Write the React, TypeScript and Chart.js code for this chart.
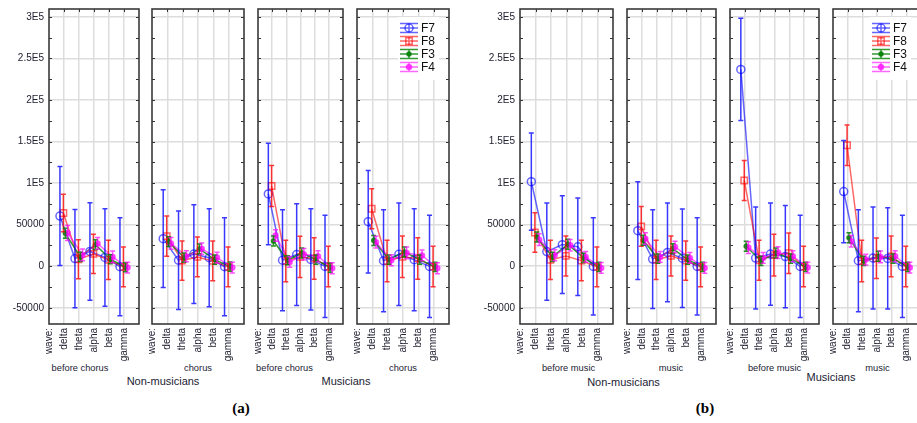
import React, { useEffect, useRef } from "react";
import { Chart, registerables } from "chart.js";
Chart.register(...registerables);

// ---------------- data ----------------
const WAVE_LABELS = ["delta", "theta", "alpha", "beta", "gamma"];
const X_AXIS_NAME = "wave:";
const Y_TICK_VALUES = [-50000, 0, 50000, 100000, 150000, 200000, 250000, 300000];
const Y_TICK_LABELS = ["-50000", "0", "50000", "1E5", "1.5E5", "2E5", "2.5E5", "3E5"];
const SERIES_NAMES = ["F7", "F8", "F3", "F4"];

// (a) Non-musicians, before chorus
const a1_F7 = [60400, 9200, 17800, 10600, -600];
const a1_F7_err = [59500, 59000, 58600, 58600, 59000];
const a1_F8 = [64000, 8400, 14800, 7600, -800];
const a1_F8_err = [22500, 23600, 23600, 23600, 24000];
const a1_F3 = [39600, 11200, 26000, 8400, -1200];
const a1_F3_err = [6000, 5500, 6000, 5500, 5500];
const a1_F4 = [40000, 13600, 27500, 11200, -1600];
const a1_F4_err = [9000, 7000, 7000, 7000, 6500];
// (a) Non-musicians, chorus
const a2_F7 = [33200, 7200, 14600, 10200, -600];
const a2_F7_err = [58800, 59200, 59400, 59000, 59000];
const a2_F8 = [36200, 6800, 11200, 6400, -800];
const a2_F8_err = [24200, 23600, 24000, 24000, 24000];
const a2_F3 = [29600, 10400, 20800, 8000, -400];
const a2_F3_err = [6000, 5500, 6000, 5500, 5500];
const a2_F4 = [27500, 12000, 21000, 10400, -1600];
const a2_F4_err = [7000, 6500, 7000, 6500, 6500];
// (a) Musicians, before chorus
const a3_F7 = [87000, 7200, 14000, 8200, -200];
const a3_F7_err = [61000, 60800, 61200, 61000, 61400];
const a3_F8 = [96600, 6200, 11200, 9400, -400];
const a3_F8_err = [24600, 25000, 24800, 25000, 24400];
const a3_F3 = [30400, 7200, 16000, 8000, -1600];
const a3_F3_err = [6000, 5500, 6000, 5500, 5500];
const a3_F4 = [37000, 5200, 14400, 12000, -2400];
const a3_F4_err = [7000, 6500, 7000, 6500, 6500];
// (a) Musicians, chorus
const a4_F7 = [53600, 6600, 14400, 7800, -200];
const a4_F7_err = [61600, 61400, 61600, 61400, 61400];
const a4_F8 = [69200, 6200, 11400, 9400, -400];
const a4_F8_err = [24000, 25000, 25000, 25000, 24400];
const a4_F3 = [31000, 8000, 17200, 8000, -800];
const a4_F3_err = [6000, 5500, 6000, 5500, 5500];
const a4_F4 = [29000, 7200, 16000, 13000, -2400];
const a4_F4_err = [7000, 6500, 7000, 6500, 6500];
// (b) Non-musicians, before music
const b1_F7 = [101800, 17600, 26000, 23400, -200];
const b1_F7_err = [58600, 58400, 58800, 58600, 58600];
const b1_F8 = [40600, 7600, 12400, 6800, -800];
const b1_F8_err = [23800, 23600, 24000, 24400, 24000];
const b1_F3 = [35200, 11200, 26400, 10000, -800];
const b1_F3_err = [6000, 5500, 6000, 5500, 5500];
const b1_F4 = [32000, 13200, 25200, 11200, -2000];
const b1_F4_err = [7000, 6500, 7000, 6500, 6500];
// (b) Non-musicians, music
const b2_F7 = [42800, 8600, 16600, 9600, -200];
const b2_F7_err = [58800, 59400, 59400, 59200, 58600];
const b2_F8 = [48000, 7600, 12400, 6800, -800];
const b2_F8_err = [24000, 23600, 24000, 23600, 24000];
const b2_F3 = [31200, 9200, 21200, 8000, -800];
const b2_F3_err = [6000, 5500, 6000, 5500, 5500];
const b2_F4 = [33200, 11200, 23200, 10000, -2000];
const b2_F4_err = [7000, 6500, 7000, 6500, 6500];
// (b) Musicians, before music
const b3_F7 = [236800, 9800, 14600, 11600, -200];
const b3_F7_err = [61600, 61400, 61400, 61600, 61400];
const b3_F8 = [103200, 7200, 13400, 15600, -400];
const b3_F8_err = [24000, 24000, 25000, 24400, 24400];
const b3_F3 = [24000, 6400, 16000, 9200, -800];
const b3_F3_err = [6000, 5500, 6000, 5500, 5500];
const b3_F4 = [22400, 10000, 16400, 12000, -1600];
const b3_F4_err = [7000, 6500, 7000, 6500, 6500];
// (b) Musicians, music
const b4_F7 = [89800, 6600, 9800, 9400, -200];
const b4_F7_err = [61400, 61400, 61400, 61000, 61400];
const b4_F8 = [145600, 6200, 9600, 11800, -400];
const b4_F8_err = [24400, 25000, 24400, 24600, 24400];
const b4_F3 = [34400, 6400, 12000, 9200, -800];
const b4_F3_err = [6000, 5500, 6000, 5500, 5500];
const b4_F4 = [30000, 8000, 11200, 12000, -1600];
const b4_F4_err = [7000, 6500, 7000, 6500, 6500];

const CONDITION_A = ["before chorus", "chorus", "before chorus", "chorus"];
const CONDITION_B = ["before music", "music", "before music", "music"];
const GROUP_NAMES = ["Non-musicians", "Musicians"];
const FIGURE_TAGS = ["(a)", "(b)"];

// ---------------- styles / layout ----------------
const FONT = "'Liberation Sans', Arial, Helvetica, sans-serif";
const TEXT_COLOR = "#222233";
const Y_MIN = -69500;
const Y_MAX = 309500;
const CANVAS_H = 362;
const PLOT_TOP = 9;
const PLOT_BOTTOM = 324;
const CAP = 2.5;

const SERIES_STYLE = [
  { color: "rgba(0,0,255,0.6)", err: "rgba(0,0,255,0.78)", point: "circle", radius: 4, fill: false, dx: -0.27 },
  { color: "rgba(255,0,0,0.6)", err: "rgba(255,0,0,0.78)", point: "rect", radius: 4.5, fill: false, dx: -0.04 },
  { color: "rgba(0,128,0,0.8)", err: "rgba(0,128,0,0.85)", point: "circle", radius: 2, fill: true, dx: 0.09 },
  { color: "rgba(255,0,255,0.6)", err: "rgba(255,0,255,0.7)", point: "circle", radius: 2.5, fill: true, dx: 0.24 },
];

const PANELS = [
  { left: 49, right: 143, showY: true, legend: false, mean: [a1_F7, a1_F8, a1_F3, a1_F4], err: [a1_F7_err, a1_F8_err, a1_F3_err, a1_F4_err] },
  { left: 148, right: 248, showY: false, legend: false, mean: [a2_F7, a2_F8, a2_F3, a2_F4], err: [a2_F7_err, a2_F8_err, a2_F3_err, a2_F4_err] },
  { left: 254, right: 347, showY: false, legend: false, mean: [a3_F7, a3_F8, a3_F3, a3_F4], err: [a3_F7_err, a3_F8_err, a3_F3_err, a3_F4_err] },
  { left: 353, right: 453, showY: false, legend: true, mean: [a4_F7, a4_F8, a4_F3, a4_F4], err: [a4_F7_err, a4_F8_err, a4_F3_err, a4_F4_err] },
  { left: 520, right: 617, showY: true, legend: false, mean: [b1_F7, b1_F8, b1_F3, b1_F4], err: [b1_F7_err, b1_F8_err, b1_F3_err, b1_F4_err] },
  { left: 623, right: 720, showY: false, legend: false, mean: [b2_F7, b2_F8, b2_F3, b2_F4], err: [b2_F7_err, b2_F8_err, b2_F3_err, b2_F4_err] },
  { left: 726, right: 823, showY: false, legend: false, mean: [b3_F7, b3_F8, b3_F3, b3_F4], err: [b3_F7_err, b3_F8_err, b3_F3_err, b3_F4_err] },
  { left: 829, right: 925, showY: false, legend: true, mean: [b4_F7, b4_F8, b4_F3, b4_F4], err: [b4_F7_err, b4_F8_err, b4_F3_err, b4_F4_err] },
];

const TEXTS = [
  { text: CONDITION_A[0], x: 80, y: 369, size: 9.3, bold: false, serif: false },
  { text: CONDITION_A[1], x: 198, y: 369, size: 9.3, bold: false, serif: false },
  { text: CONDITION_A[2], x: 284.5, y: 369, size: 9.3, bold: false, serif: false },
  { text: CONDITION_A[3], x: 403, y: 369, size: 9.3, bold: false, serif: false },
  { text: GROUP_NAMES[0], x: 163, y: 381, size: 11, bold: false, serif: false },
  { text: GROUP_NAMES[1], x: 346, y: 381, size: 11, bold: false, serif: false },
  { text: CONDITION_B[0], x: 568.5, y: 369, size: 9.3, bold: false, serif: false },
  { text: CONDITION_B[1], x: 671, y: 369, size: 9.3, bold: false, serif: false },
  { text: CONDITION_B[2], x: 774.5, y: 369, size: 9.3, bold: false, serif: false },
  { text: CONDITION_B[3], x: 877.5, y: 369, size: 9.3, bold: false, serif: false },
  { text: GROUP_NAMES[0], x: 623.5, y: 382, size: 11, bold: false, serif: false },
  { text: GROUP_NAMES[1], x: 831, y: 377, size: 11, bold: false, serif: false },
  { text: FIGURE_TAGS[0], x: 241, y: 408, size: 15, bold: true, serif: true },
  { text: FIGURE_TAGS[1], x: 705, y: 408, size: 15, bold: true, serif: true },
];

function drawMarker(ctx: CanvasRenderingContext2D, si: number, x: number, y: number) {
  const st = SERIES_STYLE[si];
  ctx.beginPath();
  if (st.point === "rect") {
    const s = st.radius * Math.SQRT1_2;
    ctx.rect(x - s, y - s, 2 * s, 2 * s);
  } else {
    ctx.arc(x, y, st.radius, 0, Math.PI * 2);
  }
  if (st.fill) {
    ctx.fillStyle = st.color;
    ctx.fill();
  }
  ctx.strokeStyle = st.color;
  ctx.lineWidth = 1.5;
  ctx.stroke();
}

const decoPlugin = {
  id: "deco",
  afterDatasetsDraw(chart: any) {
    const ctx = chart.ctx;
    const ys = chart.scales.y;
    const ca = chart.chartArea;
    ctx.save();
    ctx.beginPath();
    ctx.rect(ca.left, ca.top, ca.right - ca.left, ca.bottom - ca.top);
    ctx.clip();
    chart.data.datasets.forEach((ds: any, di: number) => {
      const meta = chart.getDatasetMeta(di);
      ctx.strokeStyle = SERIES_STYLE[di].err;
      ctx.lineWidth = 1.5;
      meta.data.forEach((el: any, j: number) => {
        const raw = ds.data[j];
        const t = ys.getPixelForValue(raw.y + raw.err);
        const b = ys.getPixelForValue(raw.y - raw.err);
        ctx.beginPath();
        ctx.moveTo(el.x, t);
        ctx.lineTo(el.x, b);
        ctx.moveTo(el.x - CAP, t);
        ctx.lineTo(el.x + CAP, t);
        ctx.moveTo(el.x - CAP, b);
        ctx.lineTo(el.x + CAP, b);
        ctx.stroke();
      });
    });
    ctx.restore();
  },
  afterDraw(chart: any, _args: any, opts: any) {
    const ctx = chart.ctx;
    const ca = chart.chartArea;
    const ys = chart.scales.y;
    const xs = chart.scales.x;
    ctx.save();
    // edge ticks
    ctx.strokeStyle = "#333";
    ctx.lineWidth = 1;
    ctx.beginPath();
    for (let v = -50000; v <= 300000; v += 25000) {
      const py = Math.round(ys.getPixelForValue(v)) + 0.5;
      ctx.moveTo(ca.left, py);
      ctx.lineTo(ca.left + 3, py);
      ctx.moveTo(ca.right - 3, py);
      ctx.lineTo(ca.right, py);
    }
    for (let i = 1; i <= WAVE_LABELS.length; i++) {
      const px = Math.round(xs.getPixelForValue(i)) + 0.5;
      ctx.moveTo(px, ca.top);
      ctx.lineTo(px, ca.top + 3);
    }
    ctx.stroke();
    // frame
    ctx.strokeStyle = "#3a3a3a";
    ctx.lineWidth = 1.6;
    ctx.strokeRect(ca.left, ca.top, ca.right - ca.left, ca.bottom - ca.top);
    // legend
    if (opts && opts.legend) {
      ctx.fillStyle = "#ffffff";
      ctx.fillRect(ca.right - 51, ca.top + 8, 41, 63);
      SERIES_NAMES.forEach((name, i) => {
        const st = SERIES_STYLE[i];
        const cy = ca.top + 19 + i * 13;
        const x0 = ca.right - 49;
        const x1 = x0 + 18;
        const cx = x0 + 9;
        ctx.strokeStyle = st.color;
        ctx.lineWidth = 1.5;
        ctx.beginPath();
        ctx.moveTo(x0, cy);
        ctx.lineTo(x1, cy);
        ctx.moveTo(x0, cy - 4.5);
        ctx.lineTo(x1, cy - 4.5);
        ctx.moveTo(x0, cy + 4.5);
        ctx.lineTo(x1, cy + 4.5);
        ctx.moveTo(cx, cy - 4.5);
        ctx.lineTo(cx, cy + 4.5);
        ctx.stroke();
        drawMarker(ctx, i, cx, cy);
        ctx.fillStyle = "#111";
        ctx.font = `12px ${FONT}`;
        ctx.textBaseline = "middle";
        ctx.textAlign = "left";
        ctx.fillText(name, ca.right - 28, cy + 0.5);
      });
    }
    ctx.restore();
  },
};

function Panel({ def }: { def: any }) {
  const ref = useRef<HTMLCanvasElement>(null);
  const yw = def.showY ? 60 : 2;
  const width = def.right - def.left + yw + 2;
  useEffect(() => {
    if (!ref.current) return;
    const datasets = SERIES_NAMES.map((name, si) => {
      const st = SERIES_STYLE[si];
      return {
        label: name,
        data: def.mean[si].map((m: number, i: number) => ({ x: i + 1 + st.dx, y: m, err: def.err[si][i] })),
        borderColor: st.color,
        backgroundColor: st.fill ? st.color : "rgba(0,0,0,0)",
        pointStyle: st.point,
        pointRadius: st.radius,
        pointBorderWidth: 1.5,
        pointBackgroundColor: st.fill ? st.color : "rgba(0,0,0,0)",
        pointBorderColor: st.color,
        borderWidth: 1.5,
        tension: 0,
        fill: false,
        order: 3 - si,
      };
    });
    const chart = new Chart(ref.current, {
      type: "line",
      data: { datasets },
      plugins: [decoPlugin],
      options: {
        animation: false,
        responsive: false,
        events: [],
        layout: { padding: { top: PLOT_TOP, right: 2, left: 0, bottom: 0 } },
        plugins: {
          legend: { display: false },
          tooltip: { enabled: false },
          deco: { legend: def.legend },
        } as any,
        scales: {
          x: {
            type: "linear",
            min: 0,
            max: WAVE_LABELS.length + 1,
            afterBuildTicks: (scale: any) => {
              const t = [];
              for (let i = 0; i <= WAVE_LABELS.length + 1; i++) t.push({ value: i });
              scale.ticks = t;
            },
            afterFit: (scale: any) => {
              scale.height = CANVAS_H - PLOT_BOTTOM;
              scale.paddingLeft = 0;
              scale.paddingRight = 0;
            },
            ticks: {
              autoSkip: false,
              minRotation: 90,
              maxRotation: 90,
              padding: 4,
              color: TEXT_COLOR,
              font: { family: FONT, size: 10 },
              callback: (v: any) => {
                const n = Math.round(Number(v));
                if (n === 0) return X_AXIS_NAME;
                return WAVE_LABELS[n - 1] || "";
              },
            },
            grid: {
              drawTicks: false,
              lineWidth: 1.5,
              color: (c: any) => {
                const v = c.tick ? c.tick.value : 0;
                return v >= 1 && v <= WAVE_LABELS.length ? "#dddddd" : "rgba(0,0,0,0)";
              },
            },
            border: { display: false },
          },
          y: {
            type: "linear",
            min: Y_MIN,
            max: Y_MAX,
            afterBuildTicks: (scale: any) => {
              scale.ticks = Y_TICK_VALUES.map((v) => ({ value: v }));
            },
            afterFit: (scale: any) => {
              scale.width = yw;
              scale.paddingTop = 0;
              scale.paddingBottom = 0;
            },
            ticks: {
              display: def.showY,
              padding: 5,
              color: TEXT_COLOR,
              font: { family: FONT, size: 10 },
              callback: (v: any) => {
                const idx = Y_TICK_VALUES.indexOf(Number(v));
                return idx >= 0 ? Y_TICK_LABELS[idx] : "";
              },
            },
            grid: { drawTicks: false, lineWidth: 1.5, color: "#dddddd" },
            border: { display: false },
          },
        },
      } as any,
    });
    return () => chart.destroy();
  }, []);
  return (
    <canvas
      ref={ref}
      width={width}
      height={CANVAS_H}
      style={{ position: "absolute", left: def.left - yw, top: 0, width, height: CANVAS_H }}
    />
  );
}

export default function App() {
  return (
    <div
      style={{
        position: "fixed",
        left: 0,
        top: 0,
        width: 917,
        height: 423,
        overflow: "hidden",
        background: "#ffffff",
      }}
    >
      {PANELS.map((p, i) => (
        <Panel key={i} def={p} />
      ))}
      {TEXTS.map((t, i) => (
        <div
          key={"t" + i}
          style={{
            position: "absolute",
            left: t.x,
            top: t.y,
            transform: "translate(-50%, -50%)",
            whiteSpace: "nowrap",
            fontFamily: t.serif ? "'Liberation Serif', 'Times New Roman', serif" : FONT,
            fontWeight: t.bold ? 700 : 400,
            fontSize: t.size,
            lineHeight: 1,
            color: t.serif ? "#000" : TEXT_COLOR,
          }}
        >
          {t.text}
        </div>
      ))}
    </div>
  );
}
